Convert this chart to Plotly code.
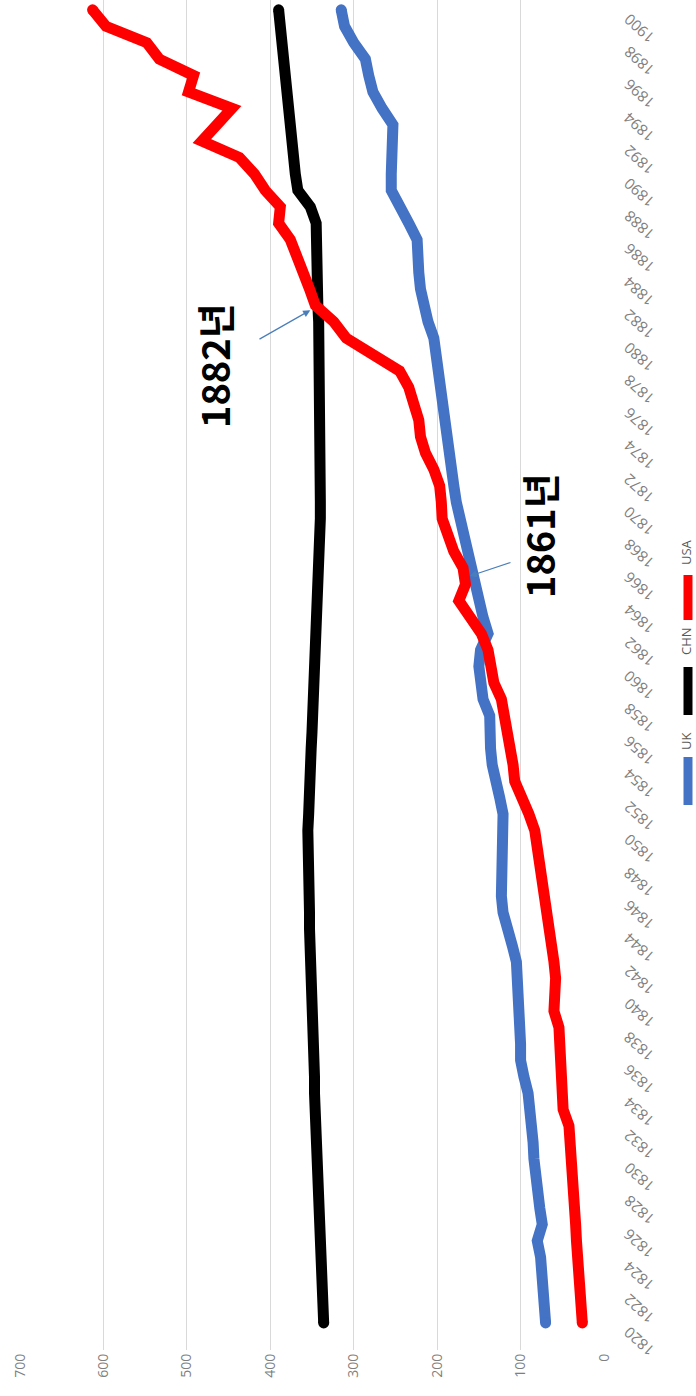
import plotly.graph_objects as go

# Annual series, 1820-1900
years = list(range(1820, 1901))

uk = [70, 71, 72, 73, 76, 80, 74, 77, 80, 82,
      84, 85, 86, 88, 91, 96, 100, 100, 101, 102,
      104, 103, 105, 110, 117, 121, 123, 122, 121, 120,
      119, 121, 125, 131, 134, 136, 138, 137, 145, 147,
      150, 148, 139, 145, 150, 155, 159, 163, 167, 172,
      177, 180, 183, 185, 188, 190, 193, 195, 198, 201,
      204, 211, 216, 220, 222, 223, 224, 234, 244, 255,
      255, 254, 253, 253, 266, 277, 282, 286, 300, 311,
      315]

chn = [336, 337, 337, 338, 339, 340, 341, 341, 342, 343,
       344, 344, 345, 346, 347, 347, 348, 348, 349, 349,
       350, 351, 351, 352, 353, 353, 354, 354, 355, 355,
       355, 354, 354, 353, 352, 351, 350, 349, 348, 347,
       346, 345, 344, 343, 343, 342, 342, 341, 341, 340,
       340, 340, 339, 339, 339, 340, 340, 340, 341, 341,
       342, 342, 343, 343, 343, 344, 344, 345, 352, 367,
       370, 372, 373, 374, 375, 377, 380, 382, 384, 387,
       390]

usa = [26, 28, 30, 31, 32, 33, 34, 35, 36, 38,
       40, 41, 42, 49, 51, 52, 52, 53, 54, 60,
       58, 58, 60, 63, 66, 69, 72, 76, 80, 82,
       83, 90, 100, 107, 109, 112, 116, 119, 123, 132,
       136, 139, 147, 160, 174, 166, 169, 180, 187, 194,
       195, 197, 204, 214, 220, 222, 228, 234, 245, 278,
       309, 324, 346, 353, 360, 366, 376, 390, 388, 406,
       419, 437, 482, 464, 446, 498, 492, 533, 548, 597,
       613]

series_names = ["UK", "CHN", "USA"]
series_values = [uk, chn, usa]
series_colors = ["#4472C4", "#000000", "#FF0000"]

value_ticks = [0, 100, 200, 300, 400, 500, 600, 700]
year_ticks = years[::2]

# Callouts: label text, point the arrow touches (value, year)
callouts = [
    ("1882년", 352, 1881.7),
    ("1861년", 161, 1865.5),
]

W, H = 696, 1396
ML, MR, MT, MB = 20, 92, 0, 46
PW, PH = W - ML - MR, H - MT - MB
Y_RANGE = [1818.35, 1900.6]


def px_to_paper(px, py):
    return (px - ML) / PW, (H - MB - py) / PH


fig = go.Figure()
for name, vals, col in zip(series_names, series_values, series_colors):
    fig.add_trace(go.Scatter(
        x=vals, y=years, mode="lines", name=name,
        line=dict(color=col, width=11),
        showlegend=False,
    ))
    # rounded ends of each line
    fig.add_trace(go.Scatter(
        x=[vals[0], vals[-1]], y=[years[0], years[-1]], mode="markers",
        marker=dict(color=col, size=11, line=dict(width=0)),
        showlegend=False, hoverinfo="skip",
    ))

fig.update_xaxes(
    range=[700, 0], tickvals=value_ticks, ticktext=[str(v) for v in value_ticks],
    tickangle=-90, showgrid=True, gridcolor="#d9d9d9", gridwidth=1,
    zeroline=False, showline=False, ticks="",
    tickfont=dict(family="Open Sans", size=14, color="#7f7f7f"),
)
fig.update_yaxes(
    range=Y_RANGE, side="right", tickvals=year_ticks,
    showticklabels=False,
    showgrid=False, zeroline=False, showline=False, ticks="",
)

# Year labels, slanted, placed at each tick of the year axis
lab_x, _ = px_to_paper(639, 0)
for yr in year_ticks:
    fig.add_annotation(
        x=lab_x, y=yr, xref="paper", yref="y", yshift=-19,
        text=str(yr), textangle=-138, showarrow=False,
        xanchor="center", yanchor="middle",
        font=dict(family="Open Sans", size=15, color="#808080"),
    )

# Callout labels and their arrows
label_pos = {"1882년": (214, 366), "1861년": (538, 536)}
arrow_tail = {"1882년": (258, 340), "1861년": (512, 562)}
for text, v, yr in callouts:
    lx, ly = label_pos[text]
    px_, py_ = px_to_paper(lx, ly)
    fig.add_annotation(
        x=px_, y=py_, xref="paper", yref="paper", text=f"<b>{text}</b>",
        textangle=-90, showarrow=False, xanchor="center", yanchor="middle",
        font=dict(family="Noto Sans CJK KR", size=38, color="#000000"),
    )
    tx, ty = arrow_tail[text]
    tip_px = ML + (700 - v) / 700 * PW
    tip_py = MT + (Y_RANGE[1] - yr) / (Y_RANGE[1] - Y_RANGE[0]) * PH
    fig.add_annotation(
        x=v, y=yr, xref="x", yref="y", text="", showarrow=True,
        ax=tx - tip_px, ay=ty - tip_py, axref="pixel", ayref="pixel",
        arrowhead=2, arrowsize=1.2, arrowwidth=1.2, arrowcolor="#4a7ebb",
        standoff=0,
    )

# Legend drawn vertically along the right edge
legend_items = [("UK", 757, 805, 742), ("CHN", 667, 715, 641), ("USA", 575, 620, 552)]
for (name, y0, y1, ty), col in zip(legend_items, series_colors):
    x0p, y0p = px_to_paper(688, y0)
    _, y1p = px_to_paper(688, y1)
    fig.add_shape(type="line", xref="paper", yref="paper",
                  x0=x0p, x1=x0p, y0=y0p, y1=y1p,
                  line=dict(color=col, width=9))
    tpx, tpy = px_to_paper(686, ty)
    fig.add_annotation(x=tpx, y=tpy, xref="paper", yref="paper", text=name,
                       textangle=-90, showarrow=False, xanchor="center", yanchor="middle",
                       font=dict(family="Open Sans", size=13, color="#595959"))

fig.update_layout(
    width=W, height=H,
    margin=dict(l=ML, r=MR, t=MT, b=MB),
    plot_bgcolor="#ffffff", paper_bgcolor="#ffffff",
    showlegend=False,
)

fig.write_html("out.html")
